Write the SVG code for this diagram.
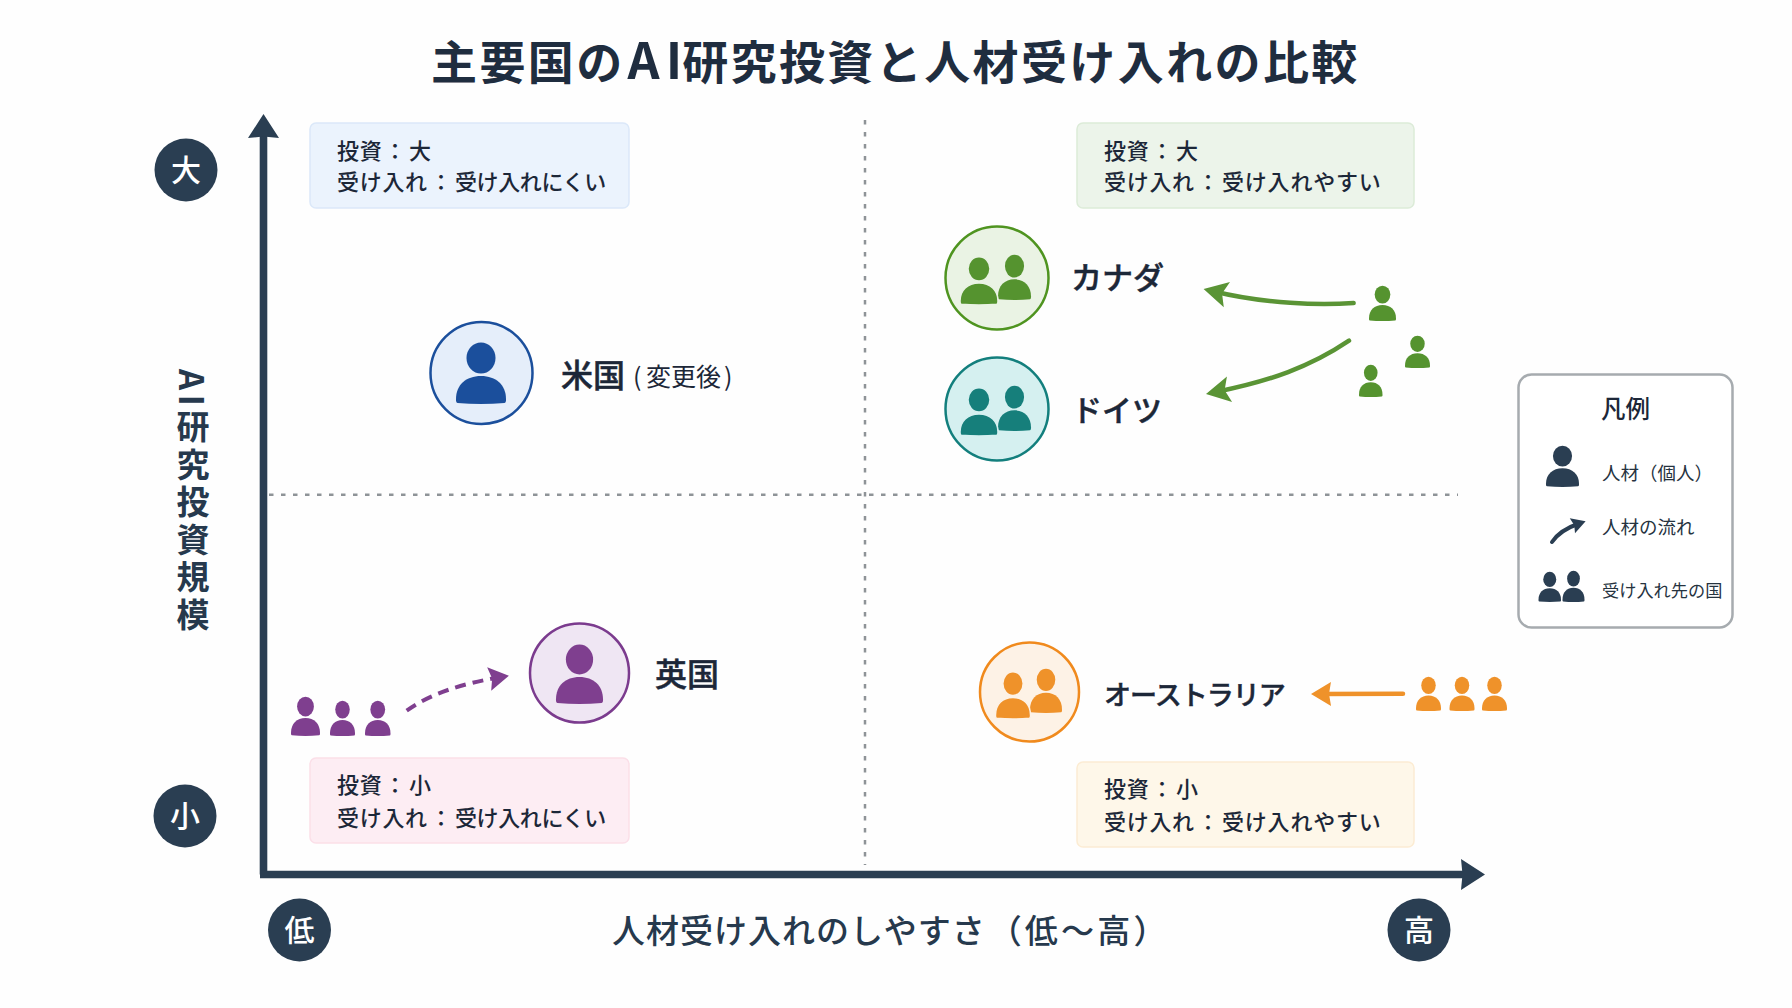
<svg xmlns="http://www.w3.org/2000/svg" width="1792" height="1008" viewBox="0 0 1792 1008">
<style>
text{font-family:"Noto Sans CJK JP","Noto Sans",sans-serif;fill:#1c2738;text-spacing-trim:space-all}
.title{font-size:46px;font-weight:700;letter-spacing:2.4px;fill:#1f2d3f}
.box{stroke-width:1.5}
.bt{font-size:22px;font-weight:500;letter-spacing:.7px}
.a{letter-spacing:-.4px}
.b{letter-spacing:.8px}
.name{font-size:32px;font-weight:500;stroke:#1c2738;stroke-width:.5px}
.sub{font-size:25px;font-weight:400}
.badge{fill:#2a3e52}
.bl{font-size:30px;font-weight:500;fill:#fff;text-anchor:middle}
.axl{font-size:33px;font-weight:500;fill:#26394d}
.axis{fill:none;stroke:#2a3e52;stroke-width:7.6}
.grid{fill:none;stroke:#8e9397;stroke-width:2.5;stroke-dasharray:4.5 7.5}
.flow{fill:none;stroke-linecap:round}
.lg{font-size:18.500px;fill:#26333f}
.blue{fill:#1b4f9c}.green{fill:#55932f}.teal{fill:#167f7b}.purple{fill:#7f3f8f}.orange{fill:#ef922a}.dark{fill:#2a3e52}
</style>
<defs>
<symbol id="person" viewBox="0 0 100 122" preserveAspectRatio="none" overflow="visible">
<ellipse cx="50" cy="30" rx="29" ry="31"/>
<path d="M3,120C0,119 0,116 0,112C0,84 20,66 50,66C80,66 100,84 100,112C100,116 100,119 97,120Q50,124 3,120Z"/>
</symbol>
<marker id="hAxis" markerUnits="userSpaceOnUse" markerWidth="30" markerHeight="34" viewBox="0 0 30 34" refX="3" refY="17" orient="auto" overflow="visible"><path d="M0,1.5L24,17L0,32.500L1.500,17Z" fill="#2a3e52"/></marker>
<marker id="hGreen" markerUnits="userSpaceOnUse" markerWidth="28" markerHeight="28" viewBox="0 0 28 28" refX="15" refY="14" orient="auto" overflow="visible"><path d="M1,1L25,14L1,27L6,14Z" fill="#5a9435"/></marker>
<marker id="hPurple" markerUnits="userSpaceOnUse" markerWidth="24" markerHeight="26" viewBox="0 0 24 26" refX="13" refY="13" orient="auto" overflow="visible"><path d="M1,1L21,13L1,25L4,13Z" fill="#7f3f8f"/></marker>
<marker id="hOrange" markerUnits="userSpaceOnUse" markerWidth="24" markerHeight="26" viewBox="0 0 24 26" refX="12" refY="13" orient="auto" overflow="visible"><path d="M1,1L21,13L1,25L3,13Z" fill="#ef922a"/></marker>
<marker id="hDark" markerUnits="userSpaceOnUse" markerWidth="18" markerHeight="18" viewBox="0 0 18 18" refX="8" refY="9" orient="auto" overflow="visible"><path d="M1,1L15,9L1,17L3,9Z" fill="#2a3e52"/></marker>
</defs>
<rect width="1792" height="1008" fill="#fefefe"/>
<text id="title" class="title" x="431" y="79">主要国の<tspan dx="3" style="font-size:50px;letter-spacing:6px">A</tspan><tspan style="font-size:50px;letter-spacing:0">I</tspan>研究投資と人材受け入れの比較</text>

<g id="axes">
<path class="grid" d="M865,120V865"/>
<path class="grid" d="M269,494.700H1458"/>
<path class="axis" d="M263.500,874.500V135" marker-end="url(#hAxis)"/>
<path class="axis" d="M260,874.500H1464" marker-end="url(#hAxis)"/>
</g>
<text id="y-axis-label" class="axl" x="193" y="369" style="writing-mode:vertical-rl;letter-spacing:4.500px;font-weight:700">AI研究投資規模</text>
<text id="x-axis-label" class="axl" x="612" y="943" style="letter-spacing:1px">人材受け入れのしやすさ<tspan dx="3" style="letter-spacing:3.200px">（低～高）</tspan></text>

<g id="scale-high"><circle class="badge" cx="186" cy="170" r="31.500"/><text class="bl" x="186" y="181">大</text></g>
<g id="scale-low"><circle class="badge" cx="185" cy="816" r="31.500"/><text class="bl" x="185" y="827">小</text></g>
<g id="scale-left"><circle class="badge" cx="299.500" cy="930" r="31.500"/><text class="bl" x="299.500" y="941">低</text></g>
<g id="scale-right"><circle class="badge" cx="1419" cy="930" r="31.500"/><text class="bl" x="1419" y="941">高</text></g>

<g id="box-top-left"><rect class="box" x="310" y="123" width="319" height="85" rx="6" fill="#ebf3fd" stroke="#dbe8f9"/><text class="bt" y="159"><tspan x="337">投資</tspan><tspan x="384">：</tspan><tspan x="409">大</tspan></text><text class="bt" y="190"><tspan x="337">受け入れ</tspan><tspan x="430">：</tspan><tspan x="455" class="a">受け入れにくい</tspan></text></g>
<g id="box-top-right"><rect class="box" x="1077" y="123" width="337" height="85" rx="6" fill="#ecf4ea" stroke="#dcebd8"/><text class="bt" y="159"><tspan x="1104">投資</tspan><tspan x="1151">：</tspan><tspan x="1176">大</tspan></text><text class="bt" y="190"><tspan x="1104">受け入れ</tspan><tspan x="1197">：</tspan><tspan x="1222" class="b">受け入れやすい</tspan></text></g>
<g id="box-bottom-left"><rect class="box" x="310" y="758" width="319" height="85" rx="6" fill="#fdedf3" stroke="#fbdfe8"/><text class="bt" y="793"><tspan x="337">投資</tspan><tspan x="384">：</tspan><tspan x="409">小</tspan></text><text class="bt" y="826"><tspan x="337">受け入れ</tspan><tspan x="430">：</tspan><tspan x="455" class="a">受け入れにくい</tspan></text></g>
<g id="box-bottom-right"><rect class="box" x="1077" y="762" width="337" height="85" rx="6" fill="#fef7e9" stroke="#fcecd3"/><text class="bt" y="797"><tspan x="1104">投資</tspan><tspan x="1151">：</tspan><tspan x="1176">小</tspan></text><text class="bt" y="830"><tspan x="1104">受け入れ</tspan><tspan x="1197">：</tspan><tspan x="1222" class="b">受け入れやすい</tspan></text></g>

<g id="node-usa">
<circle cx="481.500" cy="373" r="51" fill="#e5eefa" stroke="#1b4f9c" stroke-width="2.500"/>
<use href="#person" class="blue" x="456" y="343" width="50" height="61"/>
<text class="name" x="561" y="387">米国</text><text class="sub" y="386"><tspan x="633">(</tspan><tspan x="646">変更後</tspan><tspan x="724">)</tspan></text>
</g>
<g id="node-canada">
<circle cx="997" cy="278" r="51.500" fill="#eaf3e4" stroke="#4f9420" stroke-width="2.500"/>
<use href="#person" class="green" x="998" y="255" width="33" height="45"/>
<use href="#person" class="green" x="960" y="257" width="38" height="48" stroke="#eaf3e4" stroke-width="4"/>
<text class="name" x="1071" y="289" style="font-size:31px">カナダ</text>
</g>
<g id="node-germany">
<circle cx="997" cy="409" r="51.500" fill="#d5f0f0" stroke="#137f7d" stroke-width="2.500"/>
<use href="#person" class="teal" x="998" y="386" width="33" height="45"/>
<use href="#person" class="teal" x="960" y="388" width="38" height="48" stroke="#d5f0f0" stroke-width="4"/>
<text class="name" x="1072" y="421" style="font-size:30px">ドイツ</text>
</g>
<g id="node-uk">
<circle cx="579.500" cy="673" r="49.500" fill="#efe6f3" stroke="#7b3b8e" stroke-width="2.500"/>
<use href="#person" class="purple" x="556" y="645" width="47" height="59"/>
<text class="name" x="655" y="686">英国</text>
</g>
<g id="node-australia">
<circle cx="1029.500" cy="692" r="49.500" fill="#fdf2e6" stroke="#f08a1d" stroke-width="2.500"/>
<use href="#person" class="orange" x="1030" y="669" width="32" height="44"/>
<use href="#person" class="orange" x="995.500" y="672" width="35" height="47" stroke="#fdf2e6" stroke-width="4"/>
<text class="name" x="1104" y="705" style="font-size:27px;letter-spacing:-1px">オーストラリア</text>
</g>

<g id="talent-green">
<use href="#person" class="green" x="1369" y="286" width="27" height="35"/>
<use href="#person" class="green" x="1405" y="336" width="25" height="32"/>
<use href="#person" class="green" x="1359" y="365" width="23.500" height="32"/>
</g>
<g id="talent-purple">
<use href="#person" class="purple" x="291" y="697" width="29" height="39"/>
<use href="#person" class="purple" x="330" y="701" width="25" height="35"/>
<use href="#person" class="purple" x="365" y="701" width="25.500" height="35"/>
</g>
<g id="talent-orange">
<use href="#person" class="orange" x="1416" y="677" width="25" height="34"/>
<use href="#person" class="orange" x="1449.500" y="677" width="25" height="34"/>
<use href="#person" class="orange" x="1482" y="677" width="25" height="34"/>
</g>

<g id="connectors">
<path class="flow" d="M1353.600,303C1320,305.500 1265,304 1213.300,291.300" stroke="#5a9435" stroke-width="4.500" marker-end="url(#hGreen)"/>
<path class="flow" d="M1349,340.700C1310,367 1270,381 1215.800,392" stroke="#5a9435" stroke-width="4.500" marker-end="url(#hGreen)"/>
<path class="flow" d="M406.700,710.700C430,694 460,684 501,677" stroke="#7f3f8f" stroke-width="4" stroke-dasharray="11 7" style="stroke-linecap:butt" marker-end="url(#hPurple)"/>
<path class="flow" d="M1403,693.700L1320,694" stroke="#ef922a" stroke-width="4.500" marker-end="url(#hOrange)"/>
</g>

<g id="legend">
<rect x="1518.500" y="374.500" width="214" height="253" rx="13" fill="#fff" stroke="#a6abaf" stroke-width="2.500"/>
<text x="1601" y="418" style="font-size:24.500px;font-weight:500">凡例</text>
<use href="#person" class="dark" x="1546" y="446" width="33" height="41"/>
<text class="lg" x="1602" y="480">人材（個人）</text>
<path class="flow" d="M1552,542C1558,533 1566,528 1579,523.500" stroke="#2a3e52" stroke-width="4" marker-end="url(#hDark)"/>
<text class="lg" x="1602" y="534">人材の流れ</text>
<use href="#person" class="dark" x="1538.500" y="572" width="22.500" height="30"/>
<use href="#person" class="dark" x="1562.500" y="571" width="22" height="31"/>
<text class="lg" x="1602" y="597" style="font-size:17.200px">受け入れ先の国</text>
</g>
</svg>
